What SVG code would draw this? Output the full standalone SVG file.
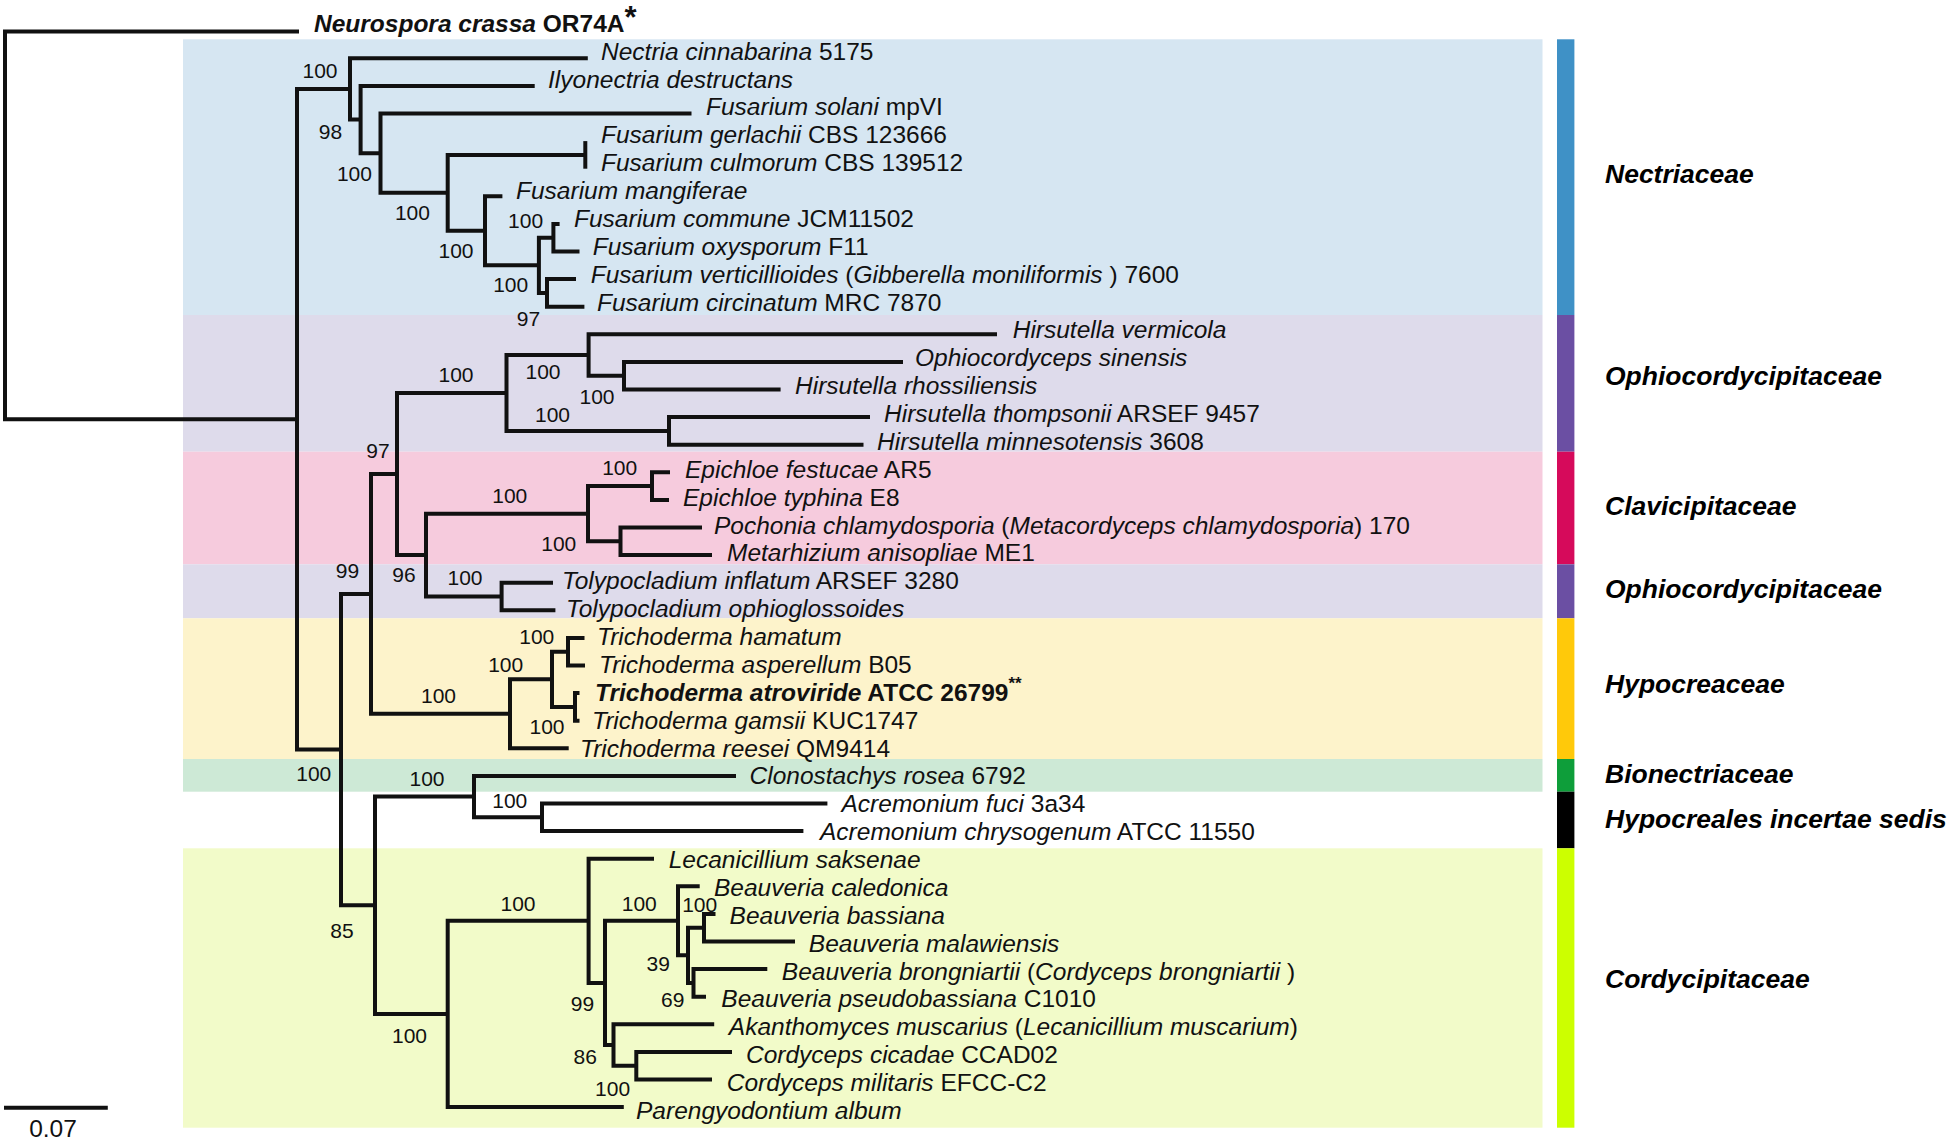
<svg xmlns="http://www.w3.org/2000/svg" width="1950" height="1143" viewBox="0 0 1950 1143">
<style>
.t{font-family:"Liberation Sans",Arial,sans-serif;font-size:24.5px;fill:#111}
.i{font-style:italic}
.b{font-weight:bold}
.s{font-family:"Liberation Sans",Arial,sans-serif;font-size:21px;fill:#111;text-anchor:middle}
.f{font-family:"Liberation Sans",Arial,sans-serif;font-size:26.5px;font-weight:bold;font-style:italic;fill:#000}
.br{fill:none;stroke:#111;stroke-width:4;stroke-linejoin:miter;stroke-linecap:butt}
</style>
<rect x="0" y="0" width="1950" height="1143" fill="#fff"/>
<g id="bands">
<rect x="183" y="39.3" width="1359.5" height="275.7" fill="#d6e6f2"/>
<rect x="183" y="315" width="1359.5" height="136.7" fill="#dedbeb"/>
<rect x="183" y="451.7" width="1359.5" height="112.6" fill="#f6cbdd"/>
<rect x="183" y="564.3" width="1359.5" height="54" fill="#dedbeb"/>
<rect x="183" y="618.3" width="1359.5" height="140.7" fill="#fdf3cb"/>
<rect x="183" y="759" width="1359.5" height="32.7" fill="#cde9d6"/>
<rect x="183" y="848.3" width="1359.5" height="279.4" fill="#f2fbc9"/>
</g>
<g id="family-bars">
<rect x="1557" y="39.3" width="17.4" height="275.7" fill="#3f91c6"/>
<rect x="1557" y="315" width="17.4" height="136.7" fill="#6b4fa3"/>
<rect x="1557" y="451.7" width="17.4" height="112.6" fill="#d60a5b"/>
<rect x="1557" y="564.3" width="17.4" height="54" fill="#6b4fa3"/>
<rect x="1557" y="618.3" width="17.4" height="140.7" fill="#ffc90a"/>
<rect x="1557" y="759" width="17.4" height="32.7" fill="#0e9e3a"/>
<rect x="1557" y="791.7" width="17.4" height="56.6" fill="#000"/>
<rect x="1557" y="848.3" width="17.4" height="279.4" fill="#ccff00"/>
</g>
<g id="connectors">
<path class="br" d="M299,31.5 H5 V419.25 H297"/>
<path class="br" d="M350,88.9 H297 V749.6 H341"/>
<path class="br" d="M587.8,58.3 H350 V119.55 H360.6"/>
<path class="br" d="M534.7,85.9 H360.6 V153.2 H380.5"/>
<path class="br" d="M691.5,113.5 H380.5 V192.85 H447.7"/>
<path class="br" d="M585.3,154.9 H447.7 V230.8 H485"/>
<path class="br" d="M585.3,141.1 V168.7"/>
<path class="br" d="M502.4,196.3 H485 V265.3 H538.9"/>
<path class="br" d="M553.4,237.7 H538.9 V292.9 H547"/>
<path class="br" d="M559.6,223.9 H553.4 V251.5 H579.5"/>
<path class="br" d="M576,279.1 H547 V306.7 H584.4"/>
<path class="br" d="M371,593.9 H341 V905.3 H375"/>
<path class="br" d="M397,474 H371 V713.8 H510"/>
<path class="br" d="M506.5,392.95 H397 V555.1 H426"/>
<path class="br" d="M588.6,355 H506.5 V430.9 H669"/>
<path class="br" d="M997,334.3 H588.6 V375.7 H624"/>
<path class="br" d="M903,361.9 H624 V389.5 H780.6"/>
<path class="br" d="M870,417.1 H669 V444.7 H863.5"/>
<path class="br" d="M588,513.7 H426 V596.5 H501.6"/>
<path class="br" d="M652,486.1 H588 V541.3 H620.5"/>
<path class="br" d="M670,472.3 H652 V499.9 H669"/>
<path class="br" d="M702,527.5 H620.5 V555.1 H712"/>
<path class="br" d="M553,582.7 H501.6 V610.3 H555.4"/>
<path class="br" d="M552,679.3 H510 V748.3 H568.7"/>
<path class="br" d="M568,651.7 H552 V706.9 H575"/>
<path class="br" d="M584.5,637.9 H568 V665.5 H585"/>
<path class="br" d="M579.5,693.1 H575 V720.7 H579.5"/>
<path class="br" d="M474,796.6 H375 V1013.95 H447.7"/>
<path class="br" d="M736,775.9 H474 V817.3 H542"/>
<path class="br" d="M827.4,803.5 H542 V831.1 H803.4"/>
<path class="br" d="M588.6,920.8 H447.7 V1107.1 H623.8"/>
<path class="br" d="M654,858.7 H588.6 V982.9 H605"/>
<path class="br" d="M678,920.8 H605 V1045 H613.5"/>
<path class="br" d="M699.7,886.3 H678 V955.3 H688"/>
<path class="br" d="M704,927.7 H688 V982.9 H693.5"/>
<path class="br" d="M715.5,913.9 H704 V941.5 H795"/>
<path class="br" d="M767.3,969.1 H693.5 V996.7 H706"/>
<path class="br" d="M714.2,1024.3 H613.5 V1065.7 H636.3"/>
<path class="br" d="M732,1051.9 H636.3 V1079.5 H712"/>
</g>
<g id="tips">
<g id="t-neurospora"><text class="t b" x="314" y="32"><tspan class="i">Neurospora crassa</tspan> OR74A<tspan font-size="31" dy="-4">*</tspan></text></g>
<g id="t00"><text class="t" x="601" y="59.7"><tspan class="i">Nectria cinnabarina</tspan> 5175</text></g>
<g id="t01"><text class="t" x="548" y="87.6"><tspan class="i">Ilyonectria destructans</tspan></text></g>
<g id="t02"><text class="t" x="706" y="115.4"><tspan class="i">Fusarium solani</tspan> mpVI</text></g>
<g id="t03"><text class="t" x="601" y="143.3"><tspan class="i">Fusarium gerlachii</tspan> CBS 123666</text></g>
<g id="t04"><text class="t" x="601" y="171.2"><tspan class="i">Fusarium culmorum</tspan> CBS 139512</text></g>
<g id="t05"><text class="t" x="516" y="199.1"><tspan class="i">Fusarium mangiferae</tspan></text></g>
<g id="t06"><text class="t" x="574" y="226.9"><tspan class="i">Fusarium commune</tspan> JCM11502</text></g>
<g id="t07"><text class="t" x="592.7" y="254.8"><tspan class="i">Fusarium oxysporum</tspan> F11</text></g>
<g id="t08"><text class="t" x="590.7" y="282.7"><tspan class="i">Fusarium verticillioides</tspan> (<tspan class="i">Gibberella moniliformis</tspan> ) 7600</text></g>
<g id="t09"><text class="t" x="597" y="310.6"><tspan class="i">Fusarium circinatum</tspan> MRC 7870</text></g>
<g id="t10"><text class="t" x="1012.7" y="338.4"><tspan class="i">Hirsutella vermicola</tspan></text></g>
<g id="t11"><text class="t" x="915" y="366.3"><tspan class="i">Ophiocordyceps sinensis</tspan></text></g>
<g id="t12"><text class="t" x="795" y="394.2"><tspan class="i">Hirsutella rhossiliensis</tspan></text></g>
<g id="t13"><text class="t" x="884" y="422.1"><tspan class="i">Hirsutella thompsonii</tspan> ARSEF 9457</text></g>
<g id="t14"><text class="t" x="877" y="449.9"><tspan class="i">Hirsutella minnesotensis</tspan> 3608</text></g>
<g id="t15"><text class="t" x="685" y="477.8"><tspan class="i">Epichloe festucae</tspan> AR5</text></g>
<g id="t16"><text class="t" x="683" y="505.7"><tspan class="i">Epichloe typhina</tspan> E8</text></g>
<g id="t17"><text class="t" x="714" y="533.6"><tspan class="i">Pochonia chlamydosporia</tspan> (<tspan class="i">Metacordyceps chlamydosporia</tspan>) 170</text></g>
<g id="t18"><text class="t" x="727" y="561.4"><tspan class="i">Metarhizium anisopliae</tspan> ME1</text></g>
<g id="t19"><text class="t" x="562" y="589.3"><tspan class="i">Tolypocladium inflatum</tspan> ARSEF 3280</text></g>
<g id="t20"><text class="t" x="566" y="617.2"><tspan class="i">Tolypocladium ophioglossoides</tspan></text></g>
<g id="t21"><text class="t" x="597" y="645.1"><tspan class="i">Trichoderma hamatum</tspan></text></g>
<g id="t22"><text class="t" x="599" y="672.9"><tspan class="i">Trichoderma asperellum</tspan> B05</text></g>
<g id="t23"><text class="t b" x="595" y="700.8"><tspan class="i">Trichoderma atroviride</tspan> ATCC 26799<tspan font-size="17" dy="-12">**</tspan></text></g>
<g id="t24"><text class="t" x="592" y="728.7"><tspan class="i">Trichoderma gamsii</tspan> KUC1747</text></g>
<g id="t25"><text class="t" x="580" y="756.6"><tspan class="i">Trichoderma reesei</tspan> QM9414</text></g>
<g id="t26"><text class="t" x="749.5" y="784.4"><tspan class="i">Clonostachys rosea</tspan> 6792</text></g>
<g id="t27"><text class="t" x="841.5" y="812.3"><tspan class="i">Acremonium fuci</tspan> 3a34</text></g>
<g id="t28"><text class="t" x="820" y="840.2"><tspan class="i">Acremonium chrysogenum</tspan> ATCC 11550</text></g>
<g id="t29"><text class="t" x="668.7" y="868.1"><tspan class="i">Lecanicillium saksenae</tspan></text></g>
<g id="t30"><text class="t" x="714" y="895.9"><tspan class="i">Beauveria caledonica</tspan></text></g>
<g id="t31"><text class="t" x="729.6" y="923.8"><tspan class="i">Beauveria bassiana</tspan></text></g>
<g id="t32"><text class="t" x="808.8" y="951.7"><tspan class="i">Beauveria malawiensis</tspan></text></g>
<g id="t33"><text class="t" x="781.8" y="979.5"><tspan class="i">Beauveria brongniartii</tspan> (<tspan class="i">Cordyceps brongniartii</tspan> )</text></g>
<g id="t34"><text class="t" x="721.3" y="1007.4"><tspan class="i">Beauveria pseudobassiana</tspan> C1010</text></g>
<g id="t35"><text class="t" x="728.8" y="1035.3"><tspan class="i">Akanthomyces muscarius</tspan> (<tspan class="i">Lecanicillium muscarium</tspan>)</text></g>
<g id="t36"><text class="t" x="746" y="1063.2"><tspan class="i">Cordyceps cicadae</tspan> CCAD02</text></g>
<g id="t37"><text class="t" x="726.7" y="1091"><tspan class="i">Cordyceps militaris</tspan> EFCC-C2</text></g>
<g id="t38"><text class="t" x="636" y="1118.9"><tspan class="i">Parengyodontium album</tspan></text></g>
</g>
<g id="support">
<text class="s" x="320" y="77.5">100</text>
<text class="s" x="330.4" y="138.5">98</text>
<text class="s" x="354.4" y="180.8">100</text>
<text class="s" x="412.4" y="219.8">100</text>
<text class="s" x="456" y="257.5">100</text>
<text class="s" x="525.6" y="227.5">100</text>
<text class="s" x="510.7" y="292">100</text>
<text class="s" x="528.5" y="325.8">97</text>
<text class="s" x="456" y="381.8">100</text>
<text class="s" x="543" y="379.2">100</text>
<text class="s" x="597" y="403.5">100</text>
<text class="s" x="552.5" y="421.8">100</text>
<text class="s" x="378" y="457.5">97</text>
<text class="s" x="619.7" y="475.2">100</text>
<text class="s" x="509.8" y="502.5">100</text>
<text class="s" x="558.8" y="550.8">100</text>
<text class="s" x="347.4" y="578">99</text>
<text class="s" x="404" y="582.3">96</text>
<text class="s" x="465" y="584.8">100</text>
<text class="s" x="536.8" y="644.2">100</text>
<text class="s" x="505.7" y="671.5">100</text>
<text class="s" x="438.5" y="703.2">100</text>
<text class="s" x="547" y="733.5">100</text>
<text class="s" x="313.8" y="780.8">100</text>
<text class="s" x="427" y="785.8">100</text>
<text class="s" x="509.8" y="807.5">100</text>
<text class="s" x="342" y="937.5">85</text>
<text class="s" x="518" y="910.8">100</text>
<text class="s" x="409.5" y="1042.5">100</text>
<text class="s" x="582.4" y="1010.8">99</text>
<text class="s" x="585.3" y="1064.2">86</text>
<text class="s" x="612.6" y="1095.8">100</text>
<text class="s" x="639.3" y="910.8">100</text>
<text class="s" x="699.7" y="911.8">100</text>
<text class="s" x="658.3" y="970.8">39</text>
<text class="s" x="672.8" y="1006.5">69</text>
</g>
<g id="families">
<text class="f" x="1605" y="183">Nectriaceae</text>
<text class="f" x="1605" y="385">Ophiocordycipitaceae</text>
<text class="f" x="1605" y="515">Clavicipitaceae</text>
<text class="f" x="1605" y="598.3">Ophiocordycipitaceae</text>
<text class="f" x="1605" y="692.7">Hypocreaceae</text>
<text class="f" x="1605" y="782.7">Bionectriaceae</text>
<text class="f" x="1605" y="828.3">Hypocreales incertae sedis</text>
<text class="f" x="1605" y="988.3">Cordycipitaceae</text>
</g>
<g id="scale-bar">
<path class="br" d="M4,1107.7 H107.8"/>
<text class="t" x="53" y="1137" font-size="22" text-anchor="middle">0.07</text>
</g>
</svg>
